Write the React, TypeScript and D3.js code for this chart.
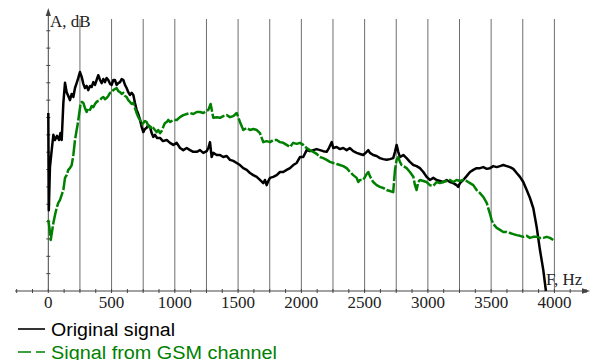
import React from "react";
import * as d3 from "d3";

const W = 594;
const H = 360;

// Frequency (Hz) / amplitude (dB) readings
const originalSignal: [number, number][] = [
  [0,51.3],[4,23.3],[13,35.7],[27,40.6],[40,45.0],[53,43.5],[69,44.7],[85,43.5],[96,45.5],[106,43.5],[119,54.2],[132,60.0],[145,57.3],[158,56.2],[171,55.0],[185,56.8],[198,55.9],[211,58.5],[224,59.9],[237,61.4],[250,63.1],[264,61.7],[277,59.7],[290,58.5],[303,59.1],[316,57.9],[330,59.1],[343,58.8],[356,60.2],[369,59.4],[382,60.8],[395,62.2],[409,60.8],[422,59.9],[435,61.1],[448,60.2],[461,61.4],[474,60.8],[488,59.7],[501,59.4],[514,60.8],[527,60.8],[540,59.4],[553,59.9],[567,60.2],[580,61.1],[593,60.8],[606,59.4],[619,58.5],[632,57.3],[645,56.5],[659,57.1],[672,56.5],[685,54.2],[698,52.2],[711,51.0],[725,49.3],[738,47.3],[751,45.8],[764,46.7],[777,47.0],[790,47.8],[804,47.3],[817,45.5],[830,44.4],[843,45.0],[860,44.1],[883,44.1],[906,43.2],[936,43.5],[962,42.7],[988,42.1],[1015,42.7],[1041,41.2],[1067,40.6],[1094,41.2],[1120,40.6],[1146,40.1],[1173,40.1],[1199,40.6],[1225,39.8],[1252,40.3],[1265,41.2],[1278,42.9],[1291,38.6],[1304,39.8],[1331,39.2],[1357,39.2],[1383,38.6],[1410,38.9],[1436,37.8],[1462,37.5],[1489,36.9],[1515,36.3],[1541,35.4],[1568,34.9],[1594,34.0],[1620,33.4],[1647,32.9],[1673,32.0],[1699,31.1],[1712,32.0],[1726,30.5],[1739,31.7],[1752,32.6],[1778,32.9],[1805,33.4],[1831,34.3],[1857,34.3],[1884,34.9],[1910,35.4],[1936,36.3],[1963,36.9],[1989,38.6],[2015,38.6],[2042,40.6],[2068,40.3],[2094,40.6],[2121,40.9],[2147,40.6],[2173,40.3],[2200,40.1],[2218,41.2],[2240,42.9],[2252,41.2],[2279,41.5],[2305,40.9],[2331,41.2],[2358,40.6],[2384,41.2],[2410,40.3],[2437,39.8],[2463,39.5],[2489,39.2],[2516,40.1],[2529,40.6],[2542,39.8],[2568,39.2],[2595,38.9],[2621,38.3],[2647,38.0],[2674,37.8],[2700,38.0],[2726,38.3],[2740,40.1],[2753,42.1],[2766,40.1],[2779,38.6],[2806,39.2],[2832,38.3],[2858,37.2],[2885,36.3],[2911,36.0],[2937,35.4],[2964,34.3],[2990,32.9],[3016,32.0],[3043,32.6],[3069,32.0],[3095,31.7],[3122,31.4],[3148,32.0],[3175,31.4],[3201,31.1],[3227,30.5],[3240,30.0],[3254,31.1],[3280,32.0],[3306,33.1],[3333,34.3],[3359,34.9],[3385,35.4],[3412,35.4],[3438,35.7],[3465,35.2],[3491,35.4],[3517,36.0],[3544,35.7],[3570,36.0],[3596,36.3],[3623,36.0],[3649,35.7],[3675,35.2],[3702,34.0],[3728,32.9],[3754,31.4],[3781,29.1],[3807,26.8],[3833,23.9],[3860,18.4],[3886,11.8],[3912,6.1],[3933,0]
];

const gsmSignal: [number, number][] = [
  [0,20.5],[9,18.2],[19,14.7],[29,17.0],[40,19.6],[53,21.9],[66,23.9],[79,25.4],[92,26.2],[106,27.7],[119,29.1],[132,32.6],[145,33.4],[158,34.9],[171,35.4],[185,36.3],[198,39.2],[211,43.5],[224,46.4],[229,47.3],[237,49.3],[245,51.3],[256,54.2],[266,54.5],[277,54.2],[290,52.7],[303,51.6],[316,52.7],[330,52.2],[343,53.3],[356,53.0],[369,53.9],[382,54.5],[395,54.8],[409,55.0],[422,55.6],[435,55.9],[448,55.3],[461,55.6],[474,56.2],[488,57.1],[501,57.3],[514,57.9],[527,58.2],[540,58.5],[553,57.6],[567,57.3],[580,56.8],[593,57.1],[606,56.2],[619,55.9],[632,55.0],[645,54.5],[659,53.9],[672,54.2],[685,52.7],[698,51.3],[711,50.1],[725,49.3],[738,48.1],[751,48.4],[764,49.0],[777,48.7],[790,47.6],[804,47.0],[817,47.6],[830,47.0],[843,46.4],[857,45.8],[869,46.4],[883,45.5],[896,46.1],[909,47.3],[922,48.4],[936,48.7],[948,49.3],[962,48.7],[988,49.3],[1015,49.3],[1041,50.1],[1067,50.7],[1094,51.0],[1120,51.3],[1146,51.0],[1173,51.6],[1199,51.6],[1225,51.3],[1252,51.9],[1265,52.2],[1283,53.9],[1304,49.9],[1331,50.1],[1357,49.9],[1383,50.4],[1410,50.7],[1436,50.1],[1462,50.4],[1489,51.3],[1515,48.7],[1541,46.4],[1568,47.0],[1594,46.4],[1620,46.7],[1647,46.4],[1673,45.5],[1699,42.9],[1726,43.2],[1752,42.9],[1778,43.5],[1805,43.5],[1831,42.9],[1857,42.7],[1884,42.1],[1910,41.5],[1936,42.7],[1963,42.4],[1989,42.7],[2015,42.1],[2042,41.2],[2068,40.6],[2094,40.1],[2121,39.5],[2147,38.6],[2173,38.3],[2200,37.8],[2226,37.2],[2252,36.9],[2279,36.6],[2305,36.3],[2331,36.0],[2358,35.4],[2384,34.3],[2410,33.4],[2437,32.6],[2450,31.4],[2463,32.0],[2489,32.0],[2516,33.7],[2529,34.3],[2542,33.1],[2568,31.4],[2595,30.5],[2621,30.0],[2647,29.7],[2674,29.1],[2700,28.8],[2726,28.5],[2740,34.9],[2753,37.8],[2766,38.6],[2779,37.2],[2793,36.3],[2806,36.0],[2832,35.4],[2858,34.3],[2885,32.9],[2898,30.5],[2911,29.1],[2924,31.4],[2937,32.0],[2964,31.7],[2990,31.4],[3016,30.5],[3043,30.3],[3069,31.4],[3095,31.1],[3122,31.4],[3148,31.7],[3175,32.0],[3201,31.4],[3227,32.0],[3254,31.7],[3280,32.0],[3306,31.7],[3333,31.1],[3359,30.5],[3385,29.1],[3412,28.2],[3438,27.1],[3465,25.4],[3477,23.9],[3491,22.2],[3504,20.5],[3517,19.3],[3544,18.2],[3570,17.6],[3596,17.0],[3623,17.0],[3649,16.7],[3675,16.4],[3702,16.1],[3728,15.9],[3754,15.6],[3781,15.9],[3807,15.3],[3833,15.6],[3860,15.6],[3886,15.3],[3912,15.3],[3939,15.6],[3965,15.3],[3991,14.7]
];

const xTickLabels = [0, 500, 1000, 1500, 2000, 2500, 3000, 3500, 4000];
const gridFreqs = [250, 500, 750, 1000, 1250, 1500, 1750, 2000, 2250, 2500, 2750, 3000, 3250, 3500, 3750, 4000];
const yTickValues = [5, 10, 15, 20, 25, 30, 35, 40, 45, 50, 55, 60, 65, 70, 75];
const seriesNames = ["Original signal", "Signal from GSM channel"];
const seriesColors = ["#000000", "#008000"];

export default function App() {
  const x = d3.scaleLinear().domain([0, 4000]).range([48.3, 554.4]);
  const y = d3.scaleLinear().domain([0, 80]).range([291, 13.4]);
  const minorTicks = d3.range(-250, 4250 + 1, 125);
  const line = d3
    .line<[number, number]>()
    .x((d) => x(d[0]))
    .y((d) => y(d[1]));
  const axisY = y(0);
  const axisColor = "#444";
  const serifStyle = { fontFamily: "Liberation Serif, DejaVu Serif, serif" };
  const sansStyle = { fontFamily: "Liberation Sans, Arimo, Arial, sans-serif" };

  return (
    <svg
      width={W}
      height={H}
      style={{ position: "absolute", left: 0, top: 0, background: "#fff" }}
    >
      {/* grid lines */}
      {gridFreqs.map((f) => (
        <line key={"g" + f} x1={x(f)} x2={x(f)} y1={19} y2={axisY} stroke="#6e6e6e" strokeWidth={1} />
      ))}
      {/* x axis */}
      <line x1={15} x2={586} y1={axisY} y2={axisY} stroke={axisColor} strokeWidth={1} />
      <polygon points={`590,${axisY} 582,${axisY - 2.8} 582,${axisY + 2.8}`} fill={axisColor} />
      {minorTicks.map((t) => (
        <line key={"t" + t} x1={x(t)} x2={x(t)} y1={axisY - 2} y2={axisY + 2} stroke={axisColor} strokeWidth={1} />
      ))}
      {xTickLabels.map((t) => (
        <text key={"l" + t} x={x(t)} y={308} textAnchor="middle" style={serifStyle} fontSize={17} fill="#222">
          {t}
        </text>
      ))}
      <text x={546} y={285} style={serifStyle} fontSize={17} fill="#222">F, Hz</text>
      {/* y axis */}
      <line x1={x(0)} x2={x(0)} y1={axisY} y2={12} stroke={axisColor} strokeWidth={1} />
      <polygon points={`${x(0)},8 ${x(0) - 2.6},16 ${x(0) + 2.6},16`} fill={axisColor} />
      {yTickValues.map((v) => (
        <line key={"y" + v} x1={x(0) - 2} x2={x(0) + 2} y1={y(v)} y2={y(v)} stroke={axisColor} strokeWidth={1} />
      ))}
      <text x={50} y={26.5} style={serifStyle} fontSize={17} fill="#222">A, dB</text>
      {/* series */}
      <path d={line(originalSignal) || ""} fill="none" stroke={seriesColors[0]} strokeWidth={2.5} strokeLinejoin="round" />
      <path d={line(gsmSignal) || ""} fill="none" stroke={seriesColors[1]} strokeWidth={2.5} strokeDasharray="16,2" strokeLinejoin="round" />
      {/* legend */}
      <line x1={18} x2={45} y1={329} y2={329} stroke={seriesColors[0]} strokeWidth={1.6} />
      <text x={51} y={336} style={sansStyle} fontSize={18} fill={seriesColors[0]} textLength={124} lengthAdjust="spacingAndGlyphs">
        {seriesNames[0]}
      </text>
      <line x1={18} x2={45} y1={352} y2={352} stroke={seriesColors[1]} strokeWidth={1.6} strokeDasharray="13,5" />
      <text x={51} y={358.5} style={sansStyle} fontSize={18} fill={seriesColors[1]} textLength={226} lengthAdjust="spacingAndGlyphs">
        {seriesNames[1]}
      </text>
    </svg>
  );
}
